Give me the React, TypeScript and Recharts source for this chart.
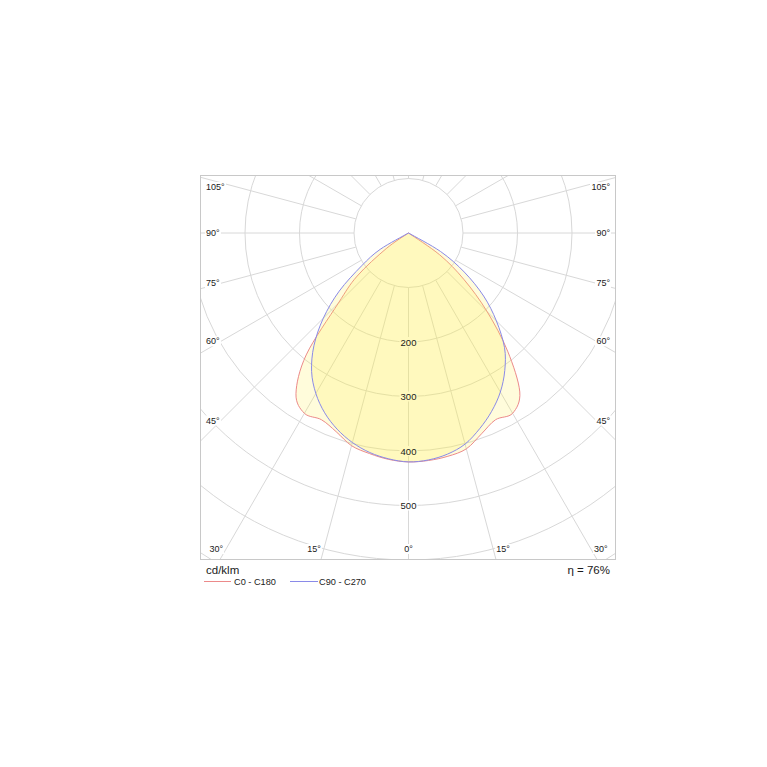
import React from 'react';
import { RadarChart, Radar, PolarGrid, PolarAngleAxis, PolarRadiusAxis } from 'recharts';

// gamma angles, measured from straight down (0°) to straight up (180°)
const GAMMA = [
  0, 5, 10, 15, 20, 25, 30, 35, 40, 45, 50, 55, 60, 65, 70, 75, 80, 85, 90,
  95, 100, 105, 110, 115, 120, 125, 130, 135, 140, 145, 150, 155, 160, 165, 170, 175, 180,
];

// cd/klm, C0 plane (right half) and C180 plane (left half)
const C0 = [
  420, 419, 416, 410, 392, 378, 382, 356, 283, 204, 133, 70, 0, 0, 0, 0, 0, 0, 0,
  0, 0, 0, 0, 0, 0, 0, 0, 0, 0, 0, 0, 0, 0, 0, 0, 0, 0,
];
const C180 = [
  420, 417, 411, 404, 388, 378, 382, 360, 292, 182, 123, 50, 0, 0, 0, 0, 0, 0, 0,
  0, 0, 0, 0, 0, 0, 0, 0, 0, 0, 0, 0, 0, 0, 0, 0, 0, 0,
];

// cd/klm, C90 plane (right half) and C270 plane (left half)
const C90 = [
  420, 418, 412, 401, 382, 361, 337, 308, 274, 228, 180, 125, 68, 0, 0, 0, 0, 0, 0,
  0, 0, 0, 0, 0, 0, 0, 0, 0, 0, 0, 0, 0, 0, 0, 0, 0, 0,
];
const C270 = [
  420, 416, 409, 398, 383, 364, 340, 310, 270, 221, 166, 105, 60, 0, 0, 0, 0, 0, 0,
  0, 0, 0, 0, 0, 0, 0, 0, 0, 0, 0, 0, 0, 0, 0, 0, 0, 0,
];

const RINGS = [100, 200, 300, 400, 500, 600, 700, 800];
const RADIUS_TICKS = [200, 300, 400, 500];
const SPOKES = [0, 15, 30, 45, 60, 75, 90, 105, 120, 135, 150, 165, 180, 195, 210, 225, 240, 255, 270, 285, 300, 315, 330, 345];
const SIDE_LABELS = [45, 60, 75, 90, 105];
const BOTTOM_LABELS = [0, 15, 30];

const FONT = '"Liberation Sans", Arial, sans-serif';
const RED = '#ec8a8a';
const BLUE = '#8a8ae8';
const FILL = '#fff04a';
const GRID = '#d8d8d8';

// frame geometry
const FRAME_LEFT = 200;
const FRAME_TOP = 175;
const W = 416;
const H = 385;
const CX = 208.5;
const CY = 58;
// radius axis runs 100..900 over 54.5..490.5 px, so 0 lands on the centre
const INNER_R = 54.5;
const OUTER_R = 490.5;
const toPx = (v: number) => INNER_R + ((v - 100) / 800) * (OUTER_R - INNER_R);

// full circle: right half first (angle = gamma), then left half (angle = 360 - gamma)
const rows = [
  ...GAMMA.map((g, i) => ({ angle: g, c0: C0[i], c90: C90[i] })),
  ...GAMMA.slice(1, -1)
    .map((g, i) => ({ angle: 360 - g, c0: C180[i + 1], c90: C270[i + 1] }))
    .reverse(),
];

// closed Catmull-Rom path through the radar points
function SmoothShape(props: any) {
  const { points, stroke, fill, fillOpacity, strokeWidth } = props;
  if (!points || !points.length) return null;
  const n = points.length;
  let d = `M${points[0].x},${points[0].y}`;
  for (let i = 0; i < n; i++) {
    const p0 = points[(i - 1 + n) % n];
    const p1 = points[i];
    const p2 = points[(i + 1) % n];
    const p3 = points[(i + 2) % n];
    if (Math.hypot(p2.x - p1.x, p2.y - p1.y) < 0.01) {
      d += ` L${p2.x},${p2.y}`;
      continue;
    }
    const c1x = p1.x + (p2.x - p0.x) / 6;
    const c1y = p1.y + (p2.y - p0.y) / 6;
    const c2x = p2.x - (p3.x - p1.x) / 6;
    const c2y = p2.y - (p3.y - p1.y) / 6;
    d += ` C${c1x},${c1y} ${c2x},${c2y} ${p2.x},${p2.y}`;
  }
  d += ' Z';
  return <path d={d} stroke={stroke} strokeWidth={strokeWidth} fill={fill} fillOpacity={fillOpacity} strokeLinejoin="round" />;
}

// white patch under each radius label (drawn below the fills)
function RadiusTickBg(props: any) {
  const { x, y } = props;
  return <rect x={x - 9} y={y - 5} width={18} height={10} fill="#fff" />;
}

function RadiusTick(props: any) {
  const { x, y, payload } = props;
  return (
    <text x={x} y={y} textAnchor="middle" dominantBaseline="central" fontSize={9.5} fill="#1a1a1a" fontFamily={FONT}>
      {payload.value}
    </text>
  );
}

function AngleLabels() {
  const rad = Math.PI / 180;
  const items: { key: string; x: number; y: number; anchor: string; text: string }[] = [];
  SIDE_LABELS.forEach((g) => {
    const y = Math.max(12, CY + (CX - 21) / Math.tan(g * rad));
    items.push({ key: 'l' + g, x: 6, y, anchor: 'start', text: `${g}°` });
    items.push({ key: 'r' + g, x: W - 6, y, anchor: 'end', text: `${g}°` });
  });
  const by = 374;
  BOTTOM_LABELS.forEach((g) => {
    const dx = (by - CY) * Math.tan(g * rad);
    if (g === 0) {
      items.push({ key: 'b0', x: CX, y: by, anchor: 'middle', text: '0°' });
    } else {
      items.push({ key: 'bl' + g, x: CX - dx - 3, y: by, anchor: 'end', text: `${g}°` });
      items.push({ key: 'br' + g, x: CX + dx + 3, y: by, anchor: 'start', text: `${g}°` });
    }
  });

  return (
    <svg width={W} height={H} style={{ position: 'absolute', left: 0, top: 0, pointerEvents: 'none' }}>
      {items.map((it) => {
        const w = (it.text.length - 1) * 5 + 4;
        const left = it.anchor === 'start' ? it.x : it.anchor === 'end' ? it.x - w : it.x - w / 2;
        return (
          <g key={it.key}>
            <rect x={left - 1} y={it.y - 5} width={w + 2} height={10} fill="#fff" />
            <text x={it.x} y={it.y} textAnchor={it.anchor as any} dominantBaseline="central" fontSize={9} fill="#1a1a1a" fontFamily={FONT}>
              {it.text}
            </text>
          </g>
        );
      })}
    </svg>
  );
}

export default function App() {
  return (
    <div style={{ position: 'absolute', left: 0, top: 0, width: 767, height: 767, background: '#fff', fontFamily: FONT, color: '#1a1a1a' }}>
      <div style={{ position: 'absolute', left: FRAME_LEFT, top: FRAME_TOP, width: W, height: H, overflow: 'hidden' }}>
        <RadarChart
          width={W}
          height={H}
          data={rows}
          cx={CX}
          cy={CY}
          innerRadius={INNER_R}
          outerRadius={OUTER_R}
          startAngle={-90}
          endAngle={270}
          margin={{ top: 0, right: 0, bottom: 0, left: 0 }}
        >
          <PolarGrid gridType="circle" polarAngles={SPOKES} polarRadius={RINGS.map(toPx)} stroke={GRID} strokeWidth={1} />
          <PolarAngleAxis dataKey="angle" type="number" domain={[0, 360]} tick={false} axisLine={false} tickLine={false} />
          <PolarRadiusAxis
            radiusAxisId="bg"
            angle={-90}
            type="number"
            domain={[100, 900]}
            allowDataOverflow
            ticks={RADIUS_TICKS as any}
            tick={RadiusTickBg}
            axisLine={false}
            tickLine={false}
          />
          <PolarRadiusAxis
            angle={-90}
            type="number"
            domain={[100, 900]}
            allowDataOverflow
            ticks={RADIUS_TICKS as any}
            tick={RadiusTick}
            axisLine={false}
            tickLine={false}
            zIndex={700}
          />
          <Radar
            dataKey="c0"
            stroke={RED}
            strokeWidth={1}
            fill={FILL}
            fillOpacity={0.2}
            dot={false}
            shape={SmoothShape}
            zIndex={600}
            isAnimationActive={false}
          />
          <Radar
            dataKey="c90"
            stroke={BLUE}
            strokeWidth={1}
            fill={FILL}
            fillOpacity={0.2}
            dot={false}
            shape={SmoothShape}
            zIndex={600}
            isAnimationActive={false}
          />
        </RadarChart>
        <AngleLabels />
        <div style={{ position: 'absolute', inset: 0, border: '1.5px solid #c8c8c8', boxSizing: 'border-box', pointerEvents: 'none' }} />
      </div>

      <div style={{ position: 'absolute', left: 206, top: 563, fontSize: 11.5, lineHeight: '15px' }}>cd/klm</div>
      <div style={{ position: 'absolute', left: 500, top: 563, width: 110, textAlign: 'right', fontSize: 11.5, lineHeight: '15px' }}>η = 76%</div>

      <div style={{ position: 'absolute', left: 204, top: 581, width: 27, height: 1, background: RED }} />
      <div style={{ position: 'absolute', left: 234, top: 575.5, fontSize: 9.2, lineHeight: '12px' }}>C0 - C180</div>
      <div style={{ position: 'absolute', left: 290, top: 581, width: 28, height: 1, background: BLUE }} />
      <div style={{ position: 'absolute', left: 319, top: 575.5, fontSize: 9.2, lineHeight: '12px' }}>C90 - C270</div>
    </div>
  );
}
